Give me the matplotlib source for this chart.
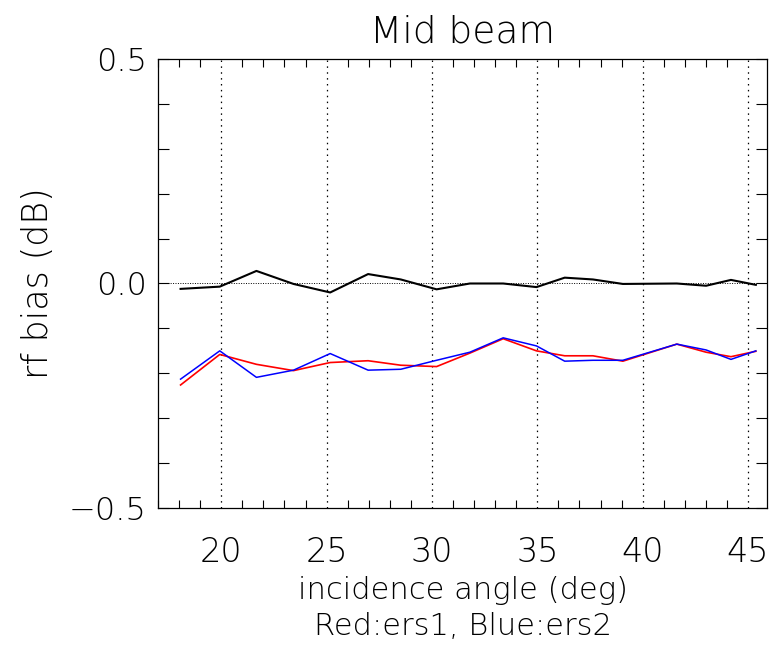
import numpy as np
import matplotlib
matplotlib.use('Agg')
import matplotlib.pyplot as plt
from matplotlib.ticker import MultipleLocator, FixedLocator

# incidence angle bins (deg)
angle = [18.07, 19.93, 21.67, 23.43, 25.17, 26.97, 28.52, 30.22, 31.80,
         33.38, 34.96, 36.30, 37.64, 39.06, 41.62, 43.01, 44.19, 45.37]

# rf bias (dB)
bias_diff = [-0.012, -0.007, 0.028, -0.001, -0.020, 0.021, 0.009, -0.013, 0.000,
             0.000, -0.008, 0.013, 0.009, -0.001, 0.000, -0.005, 0.008, -0.003]
bias_ers1 = [-0.226, -0.158, -0.180, -0.194, -0.176, -0.172, -0.182, -0.185, -0.155,
             -0.123, -0.150, -0.161, -0.161, -0.173, -0.135, -0.153, -0.163, -0.151]
bias_ers2 = [-0.213, -0.150, -0.209, -0.193, -0.156, -0.193, -0.191, -0.171, -0.153,
             -0.121, -0.139, -0.173, -0.171, -0.171, -0.135, -0.148, -0.169, -0.150]

grid_x = [20, 25, 30, 35, 40, 45]
ylab_ticks = [-0.5, 0.0, 0.5]

plt.rcParams['font.family'] = ['DejaVu Sans']
plt.rcParams['font.weight'] = 'light'
plt.rcParams['axes.titleweight'] = 'light'
plt.rcParams['axes.labelweight'] = 'light'

fig = plt.figure(figsize=(7.69, 6.46), dpi=100)
ax = fig.add_axes([0.2055, 0.2136, 0.7919, 0.6951])

# dotted reference lines
for g in grid_x:
    ax.axvline(g, color='black', lw=0.9, ls=(0, (1.2, 3.5)), zorder=1)
ax.axhline(0.0, color='black', lw=0.7, ls=(0, (1, 1.5)), zorder=1)

ax.plot(angle, bias_diff, color='black', lw=1.5, zorder=3)
ax.plot(angle, bias_ers1, color='red', lw=1.2, zorder=3)
ax.plot(angle, bias_ers2, color='blue', lw=1.1, zorder=3)

ax.set_xlim(17, 45.9)
ax.set_ylim(-0.5, 0.5)

ax.xaxis.set_major_locator(FixedLocator(grid_x))
ax.xaxis.set_minor_locator(MultipleLocator(1))
ax.yaxis.set_major_locator(FixedLocator(ylab_ticks))
ax.yaxis.set_minor_locator(MultipleLocator(0.1))
ax.set_yticklabels(['\u22120.5', '0.0', '0.5'])

ax.tick_params(axis='x', which='major', length=0, pad=20, labelsize=24)
ax.tick_params(axis='x', which='minor', direction='in', length=6, width=0.8,
               top=True, bottom=True)
ax.tick_params(axis='y', which='both', direction='in', length=8, width=0.8,
               left=True, right=True, labelsize=23, pad=8)
for s in ax.spines.values():
    s.set_linewidth(0.9)

ax.set_title('Mid beam', fontsize=27, pad=12)
ax.set_xlabel('incidence angle (deg)\nRed:ers1, Blue:ers2', fontsize=22,
              linespacing=1.3, labelpad=5)
ax.set_ylabel('rf bias (dB)', fontsize=25, labelpad=10)

fig.savefig('out.png', dpi=100)
